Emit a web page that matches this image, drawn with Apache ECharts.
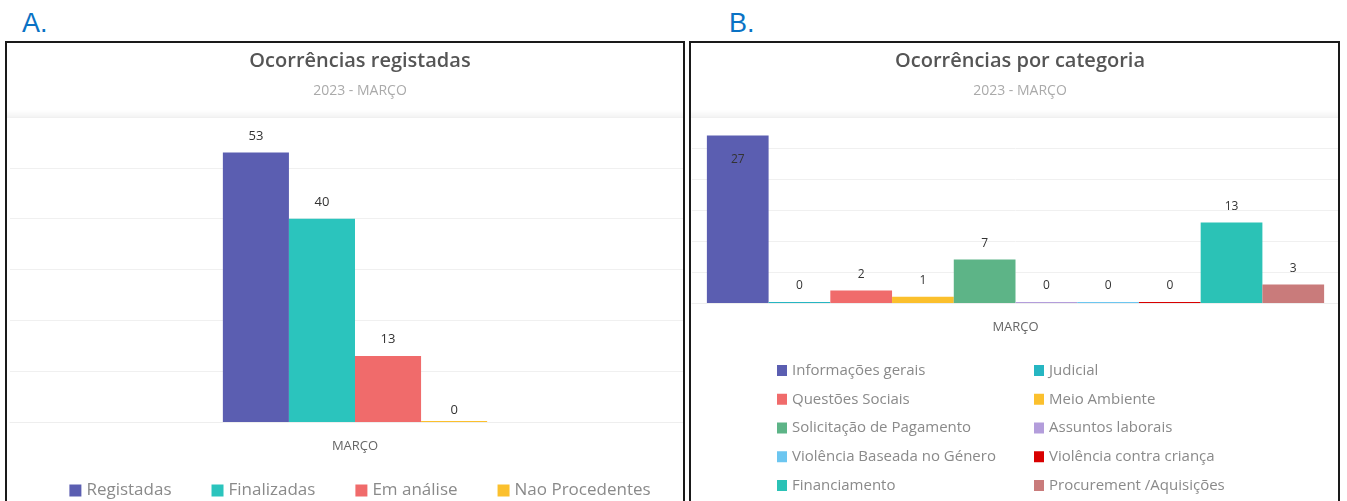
<!DOCTYPE html>
<html>
<head>
<meta charset="utf-8">
<script src="https://cdn.jsdelivr.net/npm/echarts@6/dist/echarts.min.js"></script>
<style>
  html, body { margin:0; padding:0; background:#fff; width:1347px; height:501px; overflow:hidden; position:relative; }
  .lbl { position:absolute; font-family:"Liberation Sans", Arial, sans-serif; font-size:27px; color:#0a72c4; line-height:1; }
  .panel { position:absolute; top:41px; height:470px; border:2px solid #1a1a1a; overflow:hidden; background:#fff; }
  .chart { position:absolute; top:-43px; height:501px; }
</style>
</head>
<body>
<div class="lbl" style="left:22px;top:10px;">A.</div>
<div class="lbl" style="left:729px;top:10px;">B.</div>
<div class="panel" style="left:5px;width:676px;"><div id="chartA" class="chart" style="left:-7px;width:720px;"></div></div>
<div class="panel" style="left:689px;width:647px;"><div id="chartB" class="chart" style="left:-691px;width:1347px;"></div></div>
<script>
// ---- Data ----
const titleA = 'Ocorrências registadas';
const titleB = 'Ocorrências por categoria';
const subtitleText = '2023 - MARÇO';
const categories = ['MARÇO'];
const namesA = ['Registadas', 'Finalizadas', 'Em análise', 'Nao Procedentes'];
const valuesA = [53, 40, 13, 0];
const colorsA = ['#5b5eb1', '#2bc4bd', '#f06b6b', '#fbc02d'];
const namesB = ['Informações gerais', 'Judicial', 'Questões Sociais', 'Meio Ambiente', 'Solicitação de Pagamento',
                'Assuntos laborais', 'Violência Baseada no Género', 'Violência contra criança', 'Financiamento', 'Procurement /Aquisições'];
const valuesB = [27, 0, 2, 1, 7, 0, 0, 0, 13, 3];
const colorsB = ['#5b5eb1', '#26b6c2', '#f06b6b', '#fbc02d', '#5db487', '#b39ddb', '#6cc6f0', '#d80000', '#2bc2b6', '#c97b7b'];

const FONT = '"Open Sans", "Noto Sans", sans-serif';

function header() {
  return [
    { type:'rect', shape:{ x:0, y:110, width:1347, height:8 }, silent:true, z:0,
      style:{ fill:{ type:'linear', x:0, y:0, x2:0, y2:1, colorStops:[{offset:0,color:'rgba(0,0,0,0)'},{offset:1,color:'rgba(0,0,0,0.05)'}] } } }
  ];
}

function titles(cx, text) {
  return [
    { text:text, left:cx, textAlign:'center', top:46, textStyle:{ fontFamily:FONT, fontSize:20, fontWeight:600, color:'#555' } },
    { text:subtitleText, left:cx, textAlign:'center', top:79, textStyle:{ fontFamily:FONT, fontSize:14, fontWeight:'normal', color:'#aaa' } }
  ];
}

// ---- Chart A ----
const chartA = echarts.init(document.getElementById('chartA'), null, { renderer:'canvas' });
chartA.setOption({
  animation:false,
  title: titles(355, titleA),
  graphic: header(),
  legend:{ data:namesA, left:'center', top:477, orient:'horizontal', itemWidth:12, itemHeight:12, itemGap:40,
    icon:'rect', textStyle:{ fontFamily:FONT, fontSize:17, color:'#8a8a8a' }, selectedMode:false },
  grid:{ left:10, width:690, top:117, height:305, containLabel:false },
  xAxis:{ type:'category', data:categories, axisLine:{ show:true, lineStyle:{ color:'#eee' } }, axisTick:{ show:false },
    axisLabel:{ fontFamily:FONT, fontSize:13, color:'#666', margin:18 } },
  yAxis:{ type:'value', min:0, max:60, interval:10, axisLabel:{ show:false }, axisLine:{ show:false }, axisTick:{ show:false },
    splitLine:{ lineStyle:{ color:'#f0f0f0', width:1 } } },
  series: namesA.map((n, i) => ({
    name:n, type:'bar', data:[valuesA[i]], barGap:'0%', barCategoryGap:'61.7%', barMinHeight:1,
    itemStyle:{ color:colorsA[i] },
    label:{ show:true, position:'top', distance: valuesA[i] === 0 ? 4 : 10, fontFamily:FONT, fontSize:13, color:'#333' }
  }))
});

// ---- Chart B ----
const chartB = echarts.init(document.getElementById('chartB'), null, { renderer:'canvas' });
const half1 = namesB.filter((_, i) => i % 2 === 0);
const half2 = namesB.filter((_, i) => i % 2 === 1);
const legendB = (names, x) => ({ data:names, left:x, top:358, height:150, orient:'vertical', itemWidth:10, itemHeight:11,
  itemGap:13.75, icon:'rect', selectedMode:false, textStyle:{ fontFamily:FONT, fontSize:15, color:'#8a8a8a', lineHeight:14 } });
chartB.setOption({
  animation:false,
  title: titles(1015, titleB),
  graphic: header(),
  legend:[ legendB(half1, 772), legendB(half2, 1029) ],
  grid:{ left:692, width:647, top:117, height:186, containLabel:false },
  xAxis:{ type:'category', data:categories, axisLine:{ show:true, lineStyle:{ color:'#eee' } }, axisTick:{ show:false },
    axisLabel:{ fontFamily:FONT, fontSize:13, color:'#666', margin:18 } },
  yAxis:{ type:'value', min:0, max:30, interval:5, axisLabel:{ show:false }, axisLine:{ show:false }, axisTick:{ show:false },
    splitLine:{ lineStyle:{ color:'#f0f0f0', width:1 } } },
  series: namesB.map((n, i) => ({
    name:n, type:'bar', barGap:'0%', barCategoryGap:'4.6%', barMinHeight:1,
    data:[ valuesB[i] >= 25 ? { value:valuesB[i], label:{ position:'insideTop', distance:18 } } : valuesB[i] ],
    itemStyle:{ color:colorsB[i] },
    label:{ show:true, position:'top', distance:10, fontFamily:FONT, fontSize:12, color:'#333' }
  }))
});
</script>
</body>
</html>
